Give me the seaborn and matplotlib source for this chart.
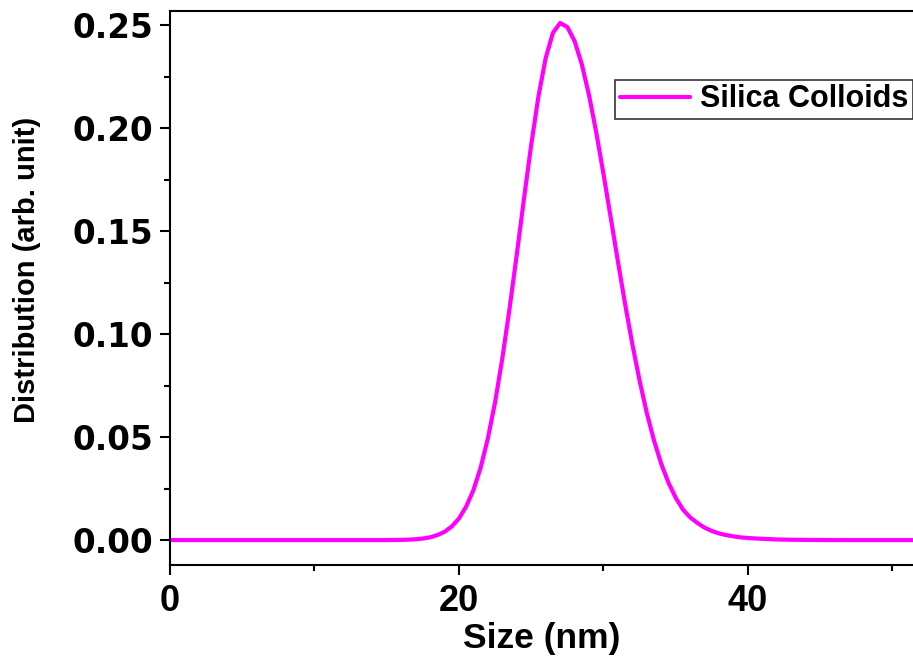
import matplotlib
matplotlib.use("Agg")
import matplotlib.pyplot as plt
import seaborn as sns
import pandas as pd
from matplotlib.ticker import MultipleLocator

# Data
size_nm = [0, 10, 15, 16, 16.5, 17, 17.5, 18, 18.5, 19, 19.5, 20, 20.5, 21, 21.5,
           22, 22.5, 23, 23.5, 24, 24.5, 25, 25.5, 26, 26.5, 27, 27.5, 28, 28.5,
           29, 29.5, 30, 30.5, 31, 31.5, 32, 32.5, 33, 33.5, 34, 34.5, 35, 35.5,
           36, 36.5, 37, 37.5, 38, 38.5, 39, 39.5, 40, 40.5, 41, 42, 43, 44, 45,
           46, 52]
distribution = [0, 0, 0, 0.0001, 0.0002, 0.0004, 0.00075, 0.00135, 0.0024, 0.0040,
                0.0066, 0.0105, 0.0163, 0.0243, 0.0352, 0.0494, 0.0670, 0.0882,
                0.1124, 0.1387, 0.1658, 0.1920, 0.2154, 0.2340, 0.2462, 0.2510,
                0.2490, 0.2422, 0.2309, 0.2159, 0.1978, 0.1777, 0.1565, 0.1352,
                0.1144, 0.0950, 0.0773, 0.0616, 0.0482, 0.0369, 0.0278, 0.0205,
                0.0148, 0.0110, 0.0083, 0.0060, 0.0044, 0.0032, 0.0024, 0.0018,
                0.0013, 0.0010, 0.0008, 0.0006, 0.0003, 0.00015, 0.00008, 0.00004,
                0, 0]
series_name = "Silica Colloids"

x_ticks = [0, 20, 40]
y_ticks = [0.00, 0.05, 0.10, 0.15, 0.20, 0.25]
y_tick_labels = ["0.00", "0.05", "0.10", "0.15", "0.20", "0.25"]

df = pd.DataFrame({"Size": size_nm, "Distribution": distribution,
                   "Sample": [series_name] * len(size_nm)})

sns.set_theme(style="ticks")
plt.rcParams["font.family"] = ["Liberation Sans", "DejaVu Sans"]
plt.rcParams["font.weight"] = "bold"
plt.rcParams["text.color"] = "black"
plt.rcParams["axes.labelcolor"] = "black"

fig = plt.figure(figsize=(9.13, 6.64), dpi=100)
ax = fig.add_axes([170 / 913, (664 - 565) / 664, 1 - 170 / 913, (565 - 11) / 664])

sns.lineplot(data=df, x="Size", y="Distribution", hue="Sample",
             palette=["#FF00FF"], linewidth=3, ax=ax)

ax.set_xlim(0, 51.42)
ax.set_ylim(-0.0121, 0.2568)
ax.set_xticks(x_ticks)
ax.set_xticklabels([str(t) for t in x_ticks], fontsize=26, fontweight="bold",
                   family=["Liberation Sans", "DejaVu Sans"])
ax.set_yticks(y_ticks)
ax.set_yticklabels(y_tick_labels, fontsize=23.5, fontweight="bold",
                   family=["DejaVu Sans"])
ax.xaxis.set_minor_locator(MultipleLocator(10))
ax.yaxis.set_minor_locator(MultipleLocator(0.025))

ax.tick_params(axis="both", which="major", direction="out", length=7, width=1.5,
               colors="black")
ax.tick_params(axis="x", which="major", pad=7)
ax.tick_params(axis="y", which="major", pad=5)
ax.tick_params(axis="both", which="minor", direction="out", length=4.5, width=1.5,
               colors="black")

for side in ["left", "bottom", "top"]:
    ax.spines[side].set_linewidth(1.5)
    ax.spines[side].set_color("black")
ax.spines["right"].set_visible(False)

ax.set_xlabel("Size (nm)", fontsize=25.5, fontweight="bold", labelpad=2,
              color="black")
ax.set_ylabel("Distribution (arb. unit)", fontsize=21, fontweight="bold",
              color="black")
ax.yaxis.set_label_coords(-0.1736, 0.533)

leg = ax.legend(loc="upper right", bbox_to_anchor=(1.0, 0.876),
                frameon=True, fancybox=False, borderaxespad=0, handlelength=2.3,
                handletextpad=0.33, borderpad=0.15, title=None,
                prop={"weight": "bold", "size": 22,
                      "family": ["Liberation Sans", "DejaVu Sans"]})
leg.get_frame().set_edgecolor("black")
leg.get_frame().set_linewidth(1.2)
for txt in leg.get_texts():
    txt.set_color("black")
for line in leg.get_lines():
    line.set_linewidth(3)

fig.savefig("out.png", dpi=100)
